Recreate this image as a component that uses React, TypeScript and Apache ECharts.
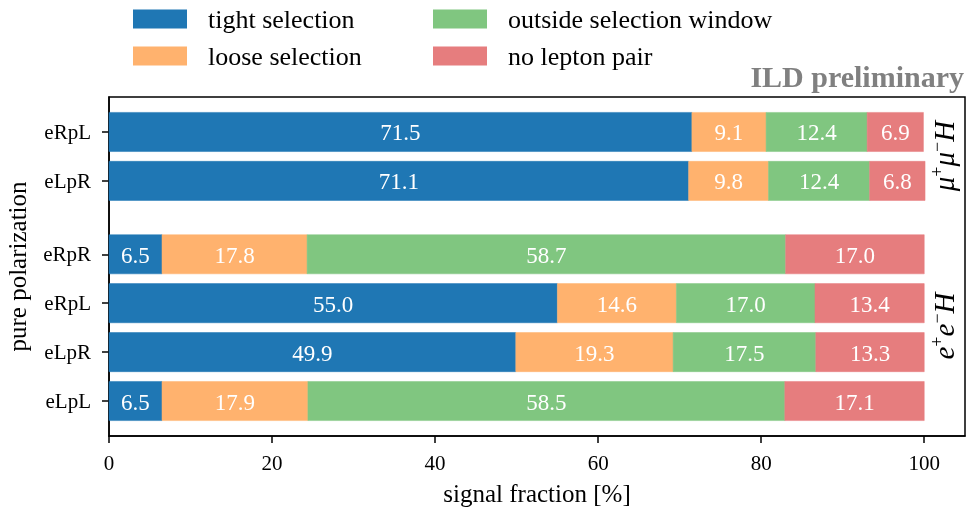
import React, { useEffect, useRef } from "react";
import * as echarts from "echarts";

const categoryLabels = ["eLpL", "eLpR", "eRpL", "eRpR", "eLpR", "eRpL"];
const categoryPositions = [0, 1, 2, 3, 4.5, 5.5];
const seriesNames = ["tight selection", "loose selection", "outside selection window", "no lepton pair"];
const tight = [6.5, 49.9, 55.0, 6.5, 71.1, 71.5];
const loose = [17.9, 19.3, 14.6, 17.8, 9.8, 9.1];
const outside = [58.5, 17.5, 17.0, 58.7, 12.4, 12.4];
const noPair = [17.1, 13.3, 13.4, 17.0, 6.8, 6.9];
const xTicks = [0, 20, 40, 60, 80, 100];

const colors = ["#1f77b4", "#ffb26e", "#80c680", "#e67d7e"];
const FONT = "Liberation Serif";

export default function App() {
  const ref = useRef<HTMLDivElement>(null);
  useEffect(() => {
    if (!ref.current) return;
    const chart = echarts.init(ref.current, undefined, { renderer: "svg" });
    const values = [tight, loose, outside, noPair];
    const starts = categoryPositions.map(() => 0);
    const series = values.map((vals, si) => {
      const data = vals.map((v, i) => {
        const s = starts[i];
        starts[i] += v;
        return [s, s + v, categoryPositions[i], v];
      });
      return {
        type: "custom",
        name: seriesNames[si],
        itemStyle: { color: colors[si] },
        encode: { x: [0, 1], y: 2 },
        data,
        renderItem: (params: any, api: any) => {
          const a = api.coord([api.value(0), api.value(2)]);
          const b = api.coord([api.value(1), api.value(2)]);
          const h = api.size([0, 0.8])[1];
          return {
            type: "group",
            children: [
              {
                type: "rect",
                shape: { x: a[0], y: a[1] - h / 2, width: b[0] - a[0], height: h },
                style: { fill: colors[si], stroke: colors[si], lineWidth: 0.5 },
              },
              {
                type: "text",
                style: {
                  text: api.value(3).toFixed(1),
                  x: (a[0] + b[0]) / 2,
                  y: a[1] + 1,
                  align: "center",
                  verticalAlign: "middle",
                  fill: "#ffffff",
                  font: `23px "${FONT}"`,
                },
              },
            ],
          };
        },
      };
    });

    const labelMap: Record<string, string> = {};
    categoryPositions.forEach((p, i) => (labelMap[String(p)] = categoryLabels[i]));

    const legendCommon = {
      orient: "vertical",
      top: 6,
      padding: 0,
      itemWidth: 54,
      itemHeight: 19,
      itemGap: 11,
      icon: "rect",
      textStyle: { fontFamily: FONT, fontSize: 26, color: "#000", padding: [0, 0, 0, 16] },
    };

    chart.setOption({
      animation: false,
      legend: [
        { ...legendCommon, left: 133, data: [seriesNames[0], seriesNames[1]] },
        { ...legendCommon, left: 433, data: [seriesNames[2], seriesNames[3]] },
      ],
      grid: {
        left: 109,
        right: 2,
        top: 97,
        bottom: 77,
        outerBoundsMode: "none",
        containLabel: false,
        show: true,
        borderColor: "#000",
        borderWidth: 1.5,
      },
      xAxis: {
        type: "value",
        min: 0,
        max: 105,
        interval: 20,
        name: "signal fraction [%]",
        nameLocation: "middle",
        nameGap: 45,
        nameTextStyle: { fontFamily: FONT, fontSize: 25, color: "#000" },
        axisLine: { show: true, onZero: false, lineStyle: { color: "#000", width: 1.5 } },
        axisTick: { show: true, length: 7, lineStyle: { color: "#000", width: 1.5 }, customValues: xTicks },
        axisLabel: { fontFamily: FONT, fontSize: 21, color: "#000", margin: 16, customValues: xTicks },
        splitLine: { show: false },
      },
      yAxis: {
        type: "value",
        min: -0.715,
        max: 6.215,
        name: "pure polarization",
        nameLocation: "middle",
        nameRotate: 90,
        nameGap: 79,
        nameTextStyle: { fontFamily: FONT, fontSize: 25, color: "#000" },
        axisLine: { show: true, onZero: false, lineStyle: { color: "#000", width: 1.5 } },
        axisTick: { show: true, length: 7, lineStyle: { color: "#000", width: 1.5 }, customValues: categoryPositions },
        axisLabel: {
          fontFamily: FONT,
          fontSize: 21,
          color: "#000",
          margin: 18,
          customValues: categoryPositions,
          formatter: (v: number) => labelMap[String(v)] ?? "",
        },
        splitLine: { show: false },
      },
      graphic: [
        {
          type: "text",
          right: 3,
          top: 61,
          style: { text: "ILD preliminary", font: `bold 30px "${FONT}"`, fill: "#808080" },
        },
        {
          type: "text",
          x: 944,
          y: 156,
          rotation: Math.PI / 2,
          style: {
            text: "{m|μ}{s|+}{m|μ}{s|−}{m|H}",
            align: "center",
            verticalAlign: "middle",
            rich: {
              m: { fontFamily: FONT, fontStyle: "italic", fontSize: 29, lineHeight: 32, fill: "#000" },
              s: { fontFamily: FONT, fontSize: 18, verticalAlign: "top", lineHeight: 32, fill: "#000" },
            },
          },
        },
        {
          type: "text",
          x: 944,
          y: 326,
          rotation: Math.PI / 2,
          style: {
            text: "{m|e}{s|+}{m|e}{s|−}{m|H}",
            align: "center",
            verticalAlign: "middle",
            rich: {
              m: { fontFamily: FONT, fontStyle: "italic", fontSize: 29, lineHeight: 32, fill: "#000" },
              s: { fontFamily: FONT, fontSize: 18, verticalAlign: "top", lineHeight: 32, fill: "#000" },
            },
          },
        },
      ],
      series,
    });
    return () => chart.dispose();
  }, []);
  return <div ref={ref} style={{ position: "fixed", left: 0, top: 0, width: 967, height: 513 }} />;
}
